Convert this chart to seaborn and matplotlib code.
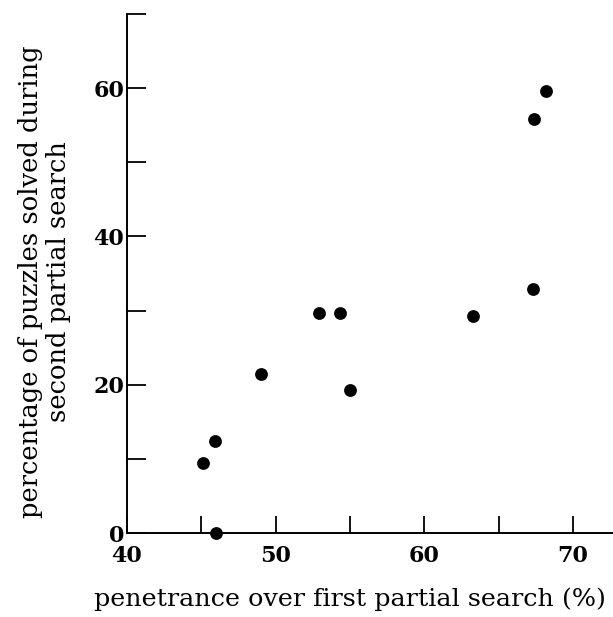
import numpy as np
import pandas as pd
import seaborn as sns
import matplotlib
matplotlib.use("Agg")
from matplotlib import pyplot as plt
from matplotlib.ticker import MultipleLocator

# values
penetrance = [45.1, 45.9, 46.0, 49.0, 52.9, 54.3, 55.0, 63.3, 67.3, 67.4, 68.2]
solved = [9.4, 12.4, 0.0, 21.5, 29.7, 29.7, 19.3, 29.3, 32.9, 55.8, 59.6]

df = pd.DataFrame({"penetrance": penetrance, "solved": solved})

sns.set_style("white")
plt.rcParams['font.family'] = ['DejaVu Serif']
plt.rcParams['text.color'] = 'black'
plt.rcParams['axes.labelcolor'] = 'black'

fig = plt.figure(figsize=(6.13, 6.17), dpi=100)
ax = fig.add_axes([127 / 613, 84 / 617, 1 - 127 / 613, 519 / 617])

sns.scatterplot(data=df, x="penetrance", y="solved", color="black", s=85,
                linewidth=0, ax=ax, clip_on=False, zorder=3)

ax.set_xlim(40, 72.7)
ax.set_ylim(0, 70)

ax.xaxis.set_major_locator(MultipleLocator(10))
ax.xaxis.set_minor_locator(MultipleLocator(5))
ax.yaxis.set_major_locator(MultipleLocator(20))
ax.yaxis.set_minor_locator(MultipleLocator(10))

for side in ["top", "right"]:
    ax.spines[side].set_visible(False)
for side in ["left", "bottom"]:
    ax.spines[side].set_linewidth(1.4)
    ax.spines[side].set_color("black")

ax.tick_params(axis="x", which="both", bottom=True, direction="in", length=12,
               width=1.3, colors="black", pad=9, labelsize=16)
ax.tick_params(axis="y", which="both", left=True, direction="in", length=14,
               width=1.3, colors="black", pad=2, labelsize=16)
for lab in ax.get_xticklabels() + ax.get_yticklabels():
    lab.set_fontweight("bold")
# the zero on the y axis sits on the baseline, above the x labels
ax.get_yticklabels()[0].set_verticalalignment("baseline")

ax.set_xlabel("penetrance over first partial search (%)", fontsize=18.3)
ax.xaxis.set_label_coords((350 - 127) / 486, -0.105)
ax.set_ylabel("percentage of puzzles solved during\nsecond partial search",
              fontsize=18.5, linespacing=1.15)
ax.yaxis.set_label_coords(-0.115, 0.484)

fig.savefig("out.png", dpi=100)
